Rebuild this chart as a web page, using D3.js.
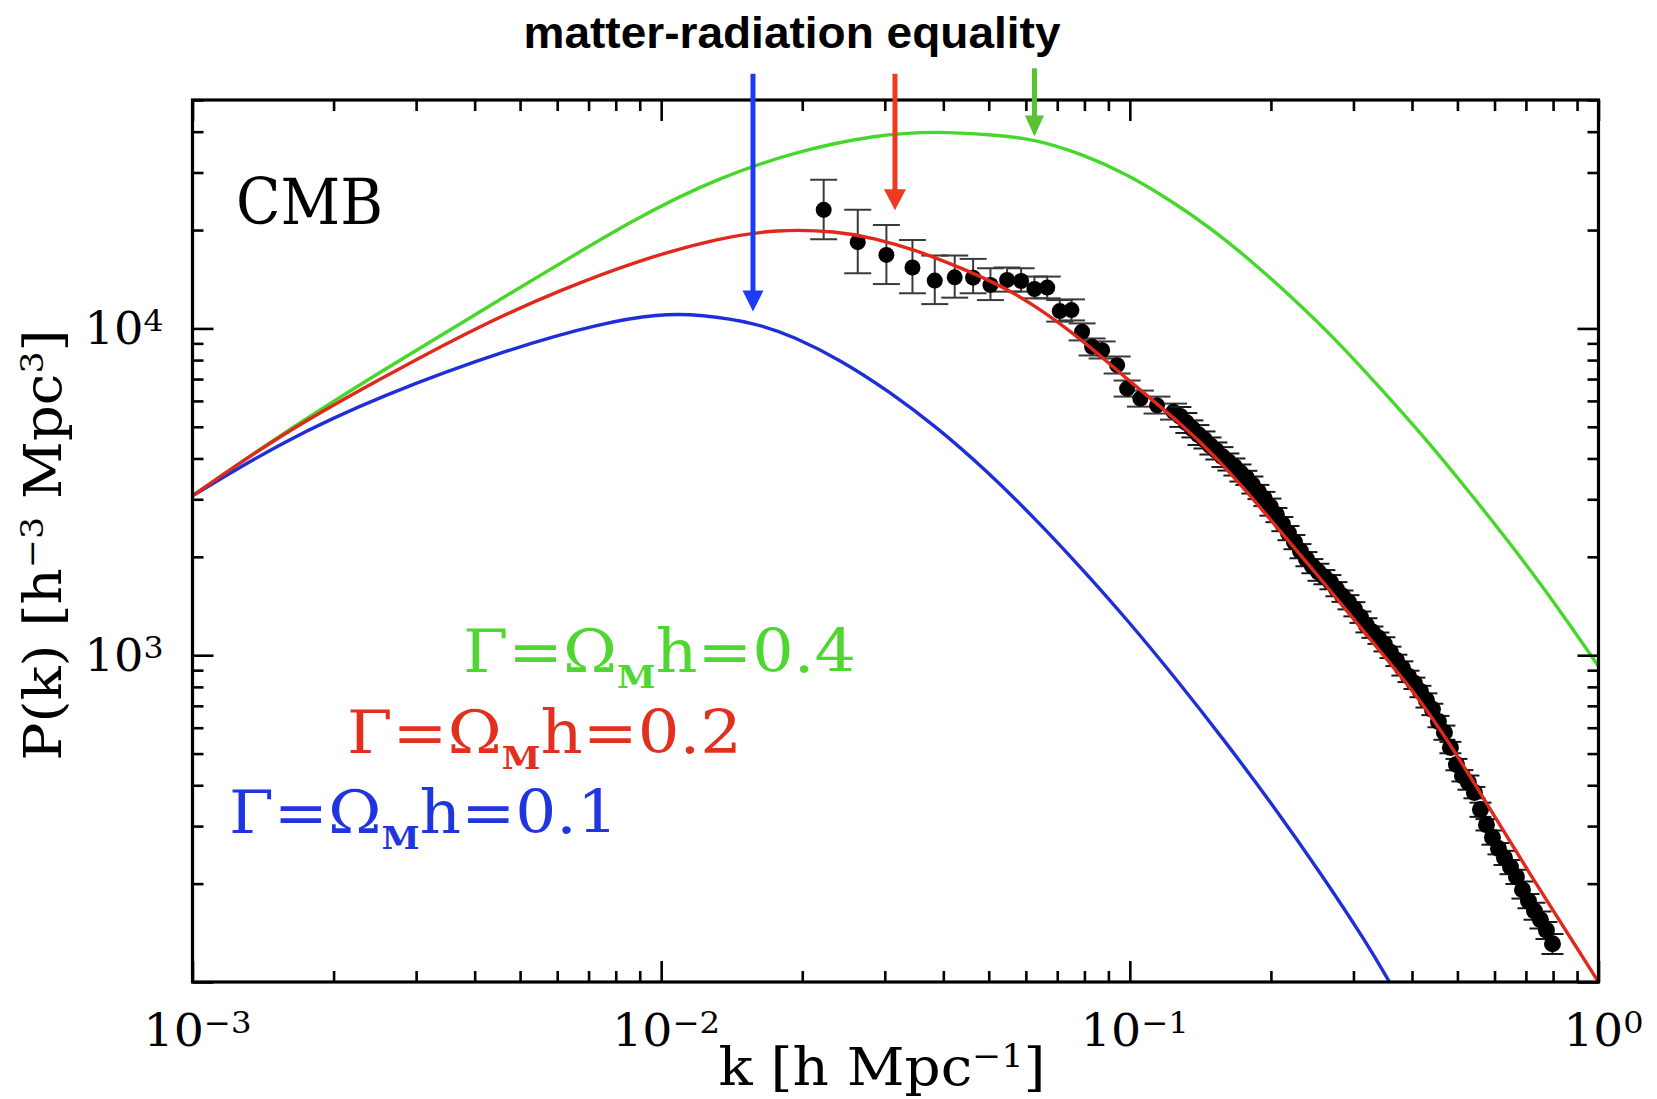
<!DOCTYPE html>
<html><head><meta charset="utf-8">
<script src="https://cdn.jsdelivr.net/npm/d3@7"></script>
<style>html,body{margin:0;padding:0;background:#fff}svg{display:block}</style>
</head><body>
<svg id="c" width="1657" height="1099"></svg>
<script>
// ---------------- data ----------------
const kGreen = [0.001,0.00154,0.00252,0.00484,0.00895,0.0132,0.0195,0.0286,0.0385,0.0514,0.0625,0.0800,0.0984,0.121,0.149,0.182,0.223,0.275,0.337,0.415,0.509,0.627,0.771,1.0];
const pGreen = [3074,4729,7379,12970,22060,28840,34910,39080,40180,39080,38000,33950,29680,24870,20260,16050,12360,9254,6733,4831,3395,2334,1583,925];

const kRed = [0.001,0.00154,0.00252,0.00411,0.00607,0.00895,0.01319,0.01771,0.02366,0.02864,0.03490,0.04227,0.05140,0.0624,0.0800,0.0988,0.1302,0.1538,0.1808,0.2127,0.2513,0.2956,0.3476,0.4109,0.4831,0.5794,0.7265,0.850,1.0];
const pRed = [3074,4729,7024,10213,13080,16170,18880,20120,19840,18880,17350,15610,13840,11850,9124,6975,5041,3993,3074,2334,1760,1327,1000,748.5,533.4,349.2,205.6,144.4,100];

const kBlue = [0.001,0.00154,0.00252,0.00484,0.00742,0.00987,0.01213,0.01605,0.01915,0.02426,0.03069,0.03886,0.04920,0.06228,0.07843,0.0993,0.1257,0.1591,0.2015,0.2550,0.3213,0.3580];
const pBlue = [3074,4470,6231,8743,10360,11080,11040,10360,9452,7977,6408,4969,3694,2650,1862,1272,844,548.7,349.2,216,130.8,100];

// sparse measurements with error bars
const dataK  = [0.02222,0.02627,0.03024,0.03437,0.03835,0.04230,0.04630,0.05042,0.05472,0.05862,0.06259,0.06664,0.07087,0.07506,0.07909,0.08309,0.08728,0.09395,0.09867,0.1053,0.1143,0.1239];
const dataP  = [23060,18360,16780,15360,14010,14330,14300,13580,14070,13970,13200,13330,11300,11380,9770,8789,8580,7717,6546,6099,5817,5565];
const dataHi = [28500,23060,20740,18660,16710,16710,16320,15280,15360,15280,14410,14410,12210,12270,10360,9318,9123,8205,6927,6453,6185,5888];
const dataLo = [18750,14750,13670,12810,11870,12420,12810,12210,12960,12960,12360,12360,10490,10580,9190,8264,8091,7278,6185,5763,5489,5260];

// dense measurements (small-scale band)
const denseK = [0.1282,0.1320,0.1360,0.1401,0.1443,0.1486,0.1530,0.1576,0.1623,0.1672,0.1722,0.1773,0.1826,0.1881,0.1937,0.1995,0.2055,0.2116,0.2180,0.2245,0.2312,0.2381,0.2452,0.2526,0.2601,0.2679,0.2759,0.2842,0.2927,0.3014,0.3105,0.3198,0.3293,0.3392,0.3493,0.3598,0.3705,0.3816,0.3931,0.4048,0.4169,0.4294,0.4422,0.4555,0.4691,0.4831,0.4976,0.5125,0.5278,0.5436,0.5599,0.5767,0.5939,0.6117,0.6300,0.6489,0.6683,0.6883,0.7089,0.7301,0.7519,0.7744,0.7976];
const denseP = [5372,5148,4935,4729,4565,4375,4224,4049,3908,3773,3617,3492,3323,3162,3010,2844,2688,2522,2367,2221,2084,1970,1875,1797,1735,1675,1594,1517,1454,1384,1308,1236,1177,1128,1081,1021,965,912,862,821,775,728,683,627,580,522,463,428,408,380,337,303,277,256,240,225,210,191.5,177,165,155,144,131];
const denseErr = [0.07,0.07,0.06,0.07,0.06,0.06,0.06,0.07,0.06,0.06,0.06,0.05,0.06,0.05,0.05,0.06,0.05,0.05,0.05,0.05,0.05,0.05,0.05,0.06,0.05,0.05,0.05,0.04,0.05,0.05,0.04,0.05,0.04,0.04,0.05,0.04,0.04,0.05,0.04,0.04,0.04,0.05,0.04,0.04,0.05,0.04,0.04,0.04,0.05,0.04,0.05,0.04,0.05,0.04,0.05,0.05,0.05,0.06,0.05,0.06,0.06,0.06,0.07];

// matter-radiation equality arrows
const arrowK     = [0.01570,0.03154,0.06259];
const arrowTipP  = [11275,23010,38680];
const arrowTailP = [60140,60140,62520];

// labels
const gammaLabels = ["0.1","0.2","0.4"];
const xMajorTicks = [1e-3,1e-2,1e-1,1];
const xTickExp = ["\u22123","\u22122","\u22121","0"];
const yMajorTicks = [1e3,1e4];
const yTickExp = ["3","4"];

// ---------------- drawing ----------------
const svg = d3.select("#c");
const SERIF = "'DejaVu Serif', serif";
const L = 192.5, R = 1598.5, T = 100, B = 982;
const x = d3.scaleLog().domain([1e-3,1]).range([L,R]);
const y = d3.scaleLog().domain([100,50000]).range([B,T]);

const colGreen = "#45d82a", colRed = "#e0281c", colBlue = "#1f2fd8";

svg.append("defs").append("clipPath").attr("id","plot")
  .append("rect").attr("x",L).attr("y",T).attr("width",R-L).attr("height",B-T);

// data points (under the curves)
const gData = svg.append("g").attr("clip-path","url(#plot)");
const sparse = dataK.map((k,i)=>({k,p:dataP[i],lo:dataLo[i],hi:dataHi[i]}));
const dense = denseK.map((k,i)=>({k,p:denseP[i],lo:denseP[i]*(1-(denseErr[i]??0.05)),hi:denseP[i]*(1+(denseErr[i]??0.05))}));

function drawErr(sel, arr, cap, r, col, sw){
  const g = sel.append("g").attr("stroke",col).attr("stroke-width",sw);
  g.selectAll(".ev").data(arr).join("line")
    .attr("x1",d=>x(d.k)).attr("x2",d=>x(d.k)).attr("y1",d=>y(d.lo)).attr("y2",d=>y(d.hi));
  g.selectAll(".ct").data(arr).join("line")
    .attr("x1",d=>x(d.k)-cap/2).attr("x2",d=>x(d.k)+cap/2).attr("y1",d=>y(d.hi)).attr("y2",d=>y(d.hi));
  g.selectAll(".cb").data(arr).join("line")
    .attr("x1",d=>x(d.k)-cap/2).attr("x2",d=>x(d.k)+cap/2).attr("y1",d=>y(d.lo)).attr("y2",d=>y(d.lo));
  sel.append("g").selectAll("circle").data(arr).join("circle")
    .attr("cx",d=>x(d.k)).attr("cy",d=>y(d.p)).attr("r",r).attr("fill","#000");
}
drawErr(gData, sparse, 27, 8, "#3a3a3a", 2);
drawErr(gData, dense, 22, 8.5, "#1a1a1a", 2);

// model curves
const line = d3.line().x(d=>x(d.k)).y(d=>y(d.p)).curve(d3.curveBasis);
const gCurves = svg.append("g").attr("clip-path","url(#plot)").attr("fill","none").attr("stroke-width",3.4);
[[kGreen,pGreen,colGreen],[kBlue,pBlue,colBlue],[kRed,pRed,colRed]].forEach(([ks,ps,c])=>{
  gCurves.append("path").datum(ks.map((k,i)=>({k,p:ps[i]}))).attr("d",line).attr("stroke",c);
});

// axes with inward ticks
const xMinor = x.ticks().filter(v=>!xMajorTicks.some(m=>Math.abs(m-v)/m<1e-6));
const yMajorAll = [100,1e3,1e4];
const yMinor = y.ticks().filter(v=>!yMajorAll.some(m=>Math.abs(m-v)/m<1e-6));
function ax(gen, vals, size, tx, ty){
  const g = svg.append("g").attr("transform",`translate(${tx},${ty})`)
    .call(gen.tickValues(vals).tickSize(size).tickSizeOuter(0).tickFormat(""));
  g.select(".domain").remove();
  g.selectAll(".tick line").attr("stroke","#000").attr("stroke-width",2.6);
  return g;
}
ax(d3.axisBottom(x), xMinor, -11, 0, B);
ax(d3.axisBottom(x), xMajorTicks, -21, 0, B);
ax(d3.axisTop(x), xMinor, -11, 0, T);
ax(d3.axisTop(x), xMajorTicks, -21, 0, T);
ax(d3.axisLeft(y), yMinor, -11, L, 0);
ax(d3.axisLeft(y), yMajorAll, -21, L, 0);
ax(d3.axisRight(y), yMinor, -11, R, 0);
ax(d3.axisRight(y), yMajorAll, -21, R, 0);

svg.append("rect").attr("x",L).attr("y",T).attr("width",R-L).attr("height",B-T)
  .attr("fill","none").attr("stroke","#000").attr("stroke-width",3.2);

// tick labels
function powLabel(sel, exp, sfs){
  sel.append("tspan").text("10");
  sel.append("tspan").attr("font-size",sfs).attr("dy",-13).text(exp);
}
xMajorTicks.forEach((v,i)=>{
  const t = svg.append("text").attr("x",x(v)+5).attr("y",1046)
    .attr("text-anchor","middle").attr("font-family",SERIF).attr("font-size",44).attr("fill","#000")
    .attr("textLength", xTickExp[i].length>1 ? 108 : 80).attr("lengthAdjust","spacingAndGlyphs");
  powLabel(t, xTickExp[i], 30);
});
yMajorTicks.forEach((v,i)=>{
  const t = svg.append("text").attr("x",L-29).attr("y",y(v)+16)
    .attr("text-anchor","end").attr("font-family",SERIF).attr("font-size",44).attr("fill","#000")
    .attr("textLength",79).attr("lengthAdjust","spacingAndGlyphs");
  powLabel(t, yTickExp[i], 30);
});

// axis titles
const xt = svg.append("text").attr("x",882).attr("y",1085).attr("text-anchor","middle")
  .attr("font-family",SERIF).attr("font-size",52).attr("fill","#000")
  .attr("textLength",327).attr("lengthAdjust","spacingAndGlyphs");
xt.append("tspan").text("k [h Mpc");
xt.append("tspan").attr("font-size",32).attr("dy",-18).text("\u22121");
xt.append("tspan").attr("dy",18).text("]");

const yt = svg.append("text").attr("transform","translate(61,545) rotate(-90)").attr("text-anchor","middle")
  .attr("font-family",SERIF).attr("font-size",52).attr("fill","#000")
  .attr("textLength",431).attr("lengthAdjust","spacingAndGlyphs");
yt.append("tspan").text("P(k) [h");
yt.append("tspan").attr("font-size",32).attr("dy",-18).text("\u22123");
yt.append("tspan").attr("dy",18).text(" Mpc");
yt.append("tspan").attr("font-size",32).attr("dy",-18).text("3");
yt.append("tspan").attr("dy",18).text("]");

// CMB label
svg.append("text").attr("x",236).attr("y",224).attr("font-family",SERIF).attr("font-size",64)
  .attr("fill","#000").attr("textLength",147).attr("lengthAdjust","spacingAndGlyphs").text("CMB");

// Gamma labels
const gammaPos = [{x:229,y:833,c:"#1f35e0",w:389},{x:347,y:753,c:"#e2301f",w:395},{x:463,y:672,c:"#4fd630",w:393}];
gammaLabels.forEach((g,i)=>{
  const p = gammaPos[i];
  const t = svg.append("text").attr("x",p.x).attr("y",p.y).attr("font-family",SERIF)
    .attr("font-size",60).attr("fill",p.c).attr("textLength",p.w).attr("lengthAdjust","spacingAndGlyphs");
  t.append("tspan").text("\u0393=\u03A9");
  t.append("tspan").attr("font-size",32).attr("font-weight","bold").attr("dy",16).text("M");
  t.append("tspan").attr("dy",-16).text("h="+g);
});

// title
svg.append("text").attr("x",792).attr("y",48).attr("text-anchor","middle")
  .attr("font-family","'Liberation Sans', Arial, sans-serif").attr("font-weight","bold").attr("font-size",45)
  .attr("fill","#000").attr("textLength",537).attr("lengthAdjust","spacingAndGlyphs")
  .text("matter-radiation equality");

// arrows
const arrowCols = [ "#1a3cf5", "#ee3a22", "#58c232" ];
const headW = [21,22,19], headL = 21;
arrowK.forEach((k,i)=>{
  const ax0 = x(k), yTip = y(arrowTipP[i]), yTail = y(arrowTailP[i]);
  svg.append("line").attr("x1",ax0).attr("x2",ax0).attr("y1",yTail).attr("y2",yTip-headL+2)
    .attr("stroke",arrowCols[i]).attr("stroke-width",5);
  svg.append("path").attr("d",`M${ax0-headW[i]/2},${yTip-headL}L${ax0+headW[i]/2},${yTip-headL}L${ax0},${yTip}Z`)
    .attr("fill",arrowCols[i]);
});
</script>
</body></html>
